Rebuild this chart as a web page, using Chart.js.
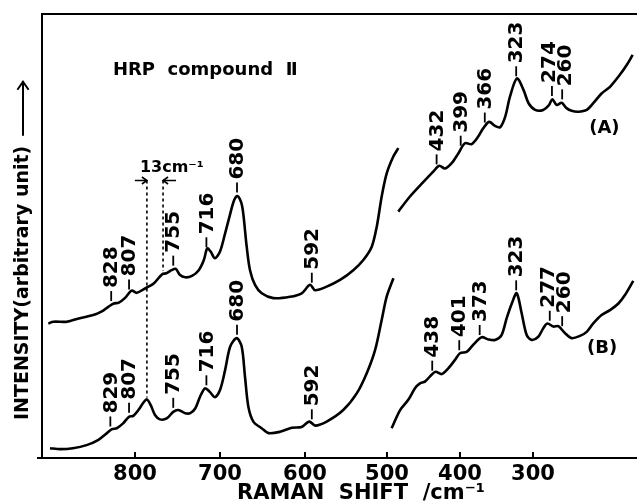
<!DOCTYPE html>
<html>
<head>
<meta charset="utf-8">
<script src="https://cdn.jsdelivr.net/npm/chart.js@4.4.1/dist/chart.umd.min.js"></script>
<style>
    html, body { margin: 0; padding: 0; background: #fff; }
    #ramanChart { display: block; }
</style>
</head>
<body>
<canvas id="ramanChart" width="637" height="504"></canvas>
<script>
    // (A) upper trace, high-frequency part (Raman shift cm-1 / intensity, arbitrary)
    var shiftAHigh = [902, 896, 880, 865, 849, 839, 831, 825, 819, 812, 804, 798, 790, 778, 768, 763, 757, 752, 747, 741,
        733, 725, 719, 715, 711, 706, 700, 694, 688, 683.5, 679.5, 675, 672.6, 668.6, 664.7, 658.8, 650.9, 637.3, 617.6, 603.9,
        594.1, 588.2, 574.5, 558.8, 543.2, 531.4, 521.5, 515.6, 509.8, 503.9, 496.1, 490.2];
    var intensityAHigh = [30.3, 30.7, 30.7, 31.5, 32.2, 33.0, 34.1, 34.8, 35.0, 36.0, 37.7, 37.2, 38.0, 39.3, 41.4, 41.6, 42.3, 42.6, 41.2, 40.7,
        41.0, 42.3, 44.6, 47.2, 46.5, 45.0, 46.5, 50.6, 55.0, 58.0, 59.0, 57.5, 55.0, 47.6, 42.3, 39.0, 37.1, 36.0, 36.3, 37.1,
        39.0, 37.8, 38.6, 40.1, 42.3, 44.6, 47.6, 52.1, 58.9, 64.1, 67.9, 69.8];
    // (A) low-frequency part
    var shiftALow = [484.5, 468.5, 450, 436.6, 428.4, 420.5, 411.4, 402.3, 393.2, 384, 375, 368, 360, 352, 345, 338, 331.5, 322, 313, 306,
        297, 286, 278, 273.5, 267.5, 260.7, 254, 247, 238, 226.4, 217.4, 206, 194.5, 181, 171.6, 163.4];
    var intensityALow = [55.5, 58.9, 62.2, 64.5, 65.8, 65.2, 66.4, 68.6, 70.9, 70.7, 72.4, 74.3, 75.7, 74.8, 74.5, 76.9, 81.4, 85.5, 82.9, 79.9,
        78.4, 78.4, 79.5, 80.8, 79.5, 80.0, 78.8, 78.2, 78.0, 78.4, 79.9, 82.1, 83.6, 86.3, 88.5, 90.8];
    // (B) lower trace, high-frequency part
    var shiftBHigh = [900, 888, 873, 857, 843, 833, 827, 821.5, 814, 807, 802, 796, 790, 786, 781.5, 776.5, 770.6, 762.7, 755, 749,
        741, 735, 729, 723.5, 717.6, 712, 706, 700, 694, 688, 680.4, 674.5, 670.6, 666.7, 660.8, 651, 643, 629.4, 615.6, 604,
        595, 588, 574.5, 555, 539, 527.4, 517.6, 509.8, 504, 496];
    var intensityBHigh = [2.2, 2.0, 2.2, 2.9, 4.1, 5.6, 6.5, 6.7, 7.8, 9.3, 9.5, 10.8, 12.5, 13.2, 11.9, 9.7, 8.7, 8.9, 10.4, 10.8,
        10.1, 10.1, 11.2, 13.8, 15.7, 14.9, 13.7, 15.3, 19.8, 25.1, 27.0, 25.1, 18.3, 11.6, 8.2, 6.7, 5.6, 5.9, 6.8, 7.0,
        8.2, 7.3, 8.2, 10.8, 14.6, 19.1, 24.3, 31.1, 36.3, 40.5];
    // (B) low-frequency part
    var shiftBLow = [493.6, 482, 470.8, 461.6, 454.8, 448, 434, 425, 416, 406.8, 400, 390.8, 381.8, 370.3, 361, 352, 343, 336, 329, 322.3,
        315.5, 308.6, 301.8, 292.7, 286, 280.4, 272, 265.3, 256, 247, 235.6, 226.4, 217.4, 206, 194.5, 183, 174, 162.6];
    var intensityBLow = [6.7, 10.8, 13.1, 15.7, 16.8, 17.2, 19.4, 18.9, 20.2, 22.1, 23.6, 23.9, 25.5, 27.2, 26.7, 26.6, 27.7, 31.5, 34.8, 37.1,
        32.6, 27.7, 26.6, 27.3, 29.2, 30.3, 29.6, 29.7, 28.1, 27.0, 27.5, 28.4, 30.3, 32.2, 33.3, 34.8, 36.7, 39.9];

    var ticksHigh = [800, 700, 600];
    var ticksLow = [500, 400, 300];

    var peaksAHigh = [828, 807, 755, 716, 680, 592];
    var peaksALow = [432, 399, 366, 323, 274, 260];
    var peaksBHigh = [829, 807, 755, 716, 680, 592];
    var peaksBLow = [438, 401, 373, 323, 277, 260];

    // 13 cm-1 shift markers: peak in (B), shoulder in (A)
    var markB = 786;
    var markA = 767;

    var FONT = '"DejaVu Sans", sans-serif';
    Chart.defaults.font.family = FONT;
    Chart.defaults.color = '#000';

    function toPoints(xs, ys) {
        return xs.map(function (x, i) { return {x: x, y: ys[i]}; });
    }

    function valueAt(xs, ys, v) {
        for (var i = 0; i < xs.length - 1; i++) {
            if ((v - xs[i]) * (v - xs[i + 1]) <= 0) {
                var t = (v - xs[i]) / (xs[i + 1] - xs[i]);
                return ys[i] + t * (ys[i + 1] - ys[i]);
            }
        }
        return ys[0];
    }

    function drawPeakLabels(ctx, xScale, yScale, xs, ys, peaks) {
        var items = peaks.map(function (p) {
            var px = xScale.getPixelForValue(p);
            return {p: p, px: px, tx: px, py: yScale.getPixelForValue(valueAt(xs, ys, p))};
        });
        items.sort(function (a, b) { return a.px - b.px; });
        // spread labels that sit too close together
        for (var i = 1; i < items.length; i++) {
            var gap = items[i].tx - items[i - 1].tx;
            if (gap < 16) {
                items[i - 1].tx -= (16 - gap) / 2;
                items[i].tx += (16 - gap) / 2;
            }
        }
        items.forEach(function (it) {
            ctx.beginPath();
            ctx.moveTo(it.px, it.py - 4);
            ctx.lineTo(it.px, it.py - 14);
            ctx.stroke();
            ctx.save();
            ctx.translate(it.tx + 1, it.py - 17);
            ctx.rotate(-Math.PI / 2);
            ctx.textAlign = 'left';
            ctx.textBaseline = 'middle';
            ctx.fillText(String(it.p), 0, 0);
            ctx.restore();
        });
    }

    function arrowHead(ctx, x, y, dir, size) {
        ctx.beginPath();
        ctx.moveTo(x - dir * size, y - size * 0.7);
        ctx.lineTo(x, y);
        ctx.lineTo(x - dir * size, y + size * 0.7);
        ctx.stroke();
    }

    var decor = {
        id: 'decor',
        afterDatasetsDraw: function (chart) {
            var ctx = chart.ctx;
            var area = chart.chartArea;
            var xh = chart.scales.x, xl = chart.scales.x2, y = chart.scales.y;
            ctx.save();
            ctx.strokeStyle = '#000';
            ctx.fillStyle = '#000';
            ctx.lineCap = 'butt';

            // top frame line and small overhang of the shift axis
            ctx.lineWidth = 2;
            ctx.beginPath();
            ctx.moveTo(area.left - 1, area.top);
            ctx.lineTo(area.right, area.top);
            ctx.moveTo(area.left - 5, area.bottom);
            ctx.lineTo(area.left, area.bottom);
            ctx.stroke();

            // inner tick marks
            [xh, xl].forEach(function (s) {
                s.ticks.forEach(function (t) {
                    var px = s.getPixelForValue(t.value);
                    ctx.beginPath();
                    ctx.moveTo(px, area.bottom);
                    ctx.lineTo(px, area.bottom - 6);
                    ctx.stroke();
                });
            });

            // peak labels
            ctx.lineWidth = 1.8;
            ctx.font = 'bold 20px ' + FONT;
            drawPeakLabels(ctx, xh, y, shiftAHigh, intensityAHigh, peaksAHigh);
            drawPeakLabels(ctx, xl, y, shiftALow, intensityALow, peaksALow);
            drawPeakLabels(ctx, xh, y, shiftBHigh, intensityBHigh, peaksBHigh);
            drawPeakLabels(ctx, xl, y, shiftBLow, intensityBLow, peaksBLow);

            // 13 cm-1 dotted markers
            var topY = y.getPixelForValue(62.5);
            var xb = xh.getPixelForValue(markB);
            var yb = y.getPixelForValue(valueAt(shiftBHigh, intensityBHigh, markB));
            var xa = xh.getPixelForValue(markA);
            var ya = y.getPixelForValue(valueAt(shiftAHigh, intensityAHigh, markA));
            ctx.lineWidth = 1.6;
            ctx.setLineDash([3, 3]);
            ctx.beginPath();
            ctx.moveTo(xb, topY);
            ctx.lineTo(xb, yb - 2);
            ctx.moveTo(xa, topY);
            ctx.lineTo(xa, ya - 3);
            ctx.stroke();
            ctx.setLineDash([]);
            ctx.beginPath();
            ctx.moveTo(xb - 12, topY);
            ctx.lineTo(xb, topY);
            ctx.moveTo(xa + 13, topY);
            ctx.lineTo(xa, topY);
            ctx.stroke();
            arrowHead(ctx, xb, topY, 1, 5);
            arrowHead(ctx, xa, topY, -1, 5);
            ctx.font = 'bold 16px ' + FONT;
            ctx.textAlign = 'left';
            ctx.textBaseline = 'alphabetic';
            ctx.fillText('13cm\u207B\u00B9', xb - 7, topY - 9);

            // sample name and trace labels
            ctx.font = 'bold 18px ' + FONT;
            ctx.fillText('HRP  compound  \u2161', xh.getPixelForValue(826), y.getPixelForValue(86.3));
            ctx.fillText('(A)', xl.getPixelForValue(223), y.getPixelForValue(73.2));
            ctx.fillText('(B)', xl.getPixelForValue(226), y.getPixelForValue(23.6));

            // axis titles
            ctx.font = 'bold 21px ' + FONT;
            ctx.textAlign = 'center';
            ctx.fillText('RAMAN  SHIFT  /cm\u207B\u00B9', 361, 499);

            ctx.save();
            ctx.translate(area.left - 19, area.bottom - 38);
            ctx.rotate(-Math.PI / 2);
            ctx.font = 'bold 19px ' + FONT;
            ctx.textAlign = 'left';
            ctx.textBaseline = 'middle';
            ctx.fillText('INTENSITY(arbitrary unit)', 0, 0);
            var w = ctx.measureText('INTENSITY(arbitrary unit)').width;
            ctx.lineWidth = 2;
            ctx.beginPath();
            ctx.moveTo(w + 10, 0);
            ctx.lineTo(w + 64, 0);
            ctx.stroke();
            arrowHead(ctx, w + 64, 0, 1, 8);
            ctx.restore();

            ctx.restore();
        }
    };

    function line(xs, ys, axis) {
        return {
            data: toPoints(xs, ys),
            xAxisID: axis,
            yAxisID: 'y',
            borderColor: '#000',
            borderWidth: 2.6,
            pointRadius: 0,
            tension: 0.3,
            fill: false,
            clip: false
        };
    }

    new Chart(document.getElementById('ramanChart').getContext('2d'), {
        type: 'line',
        data: {
            datasets: [
                line(shiftAHigh, intensityAHigh, 'x'),
                line(shiftALow, intensityALow, 'x2'),
                line(shiftBHigh, intensityBHigh, 'x'),
                line(shiftBLow, intensityBLow, 'x2')
            ]
        },
        options: {
            responsive: false,
            animation: false,
            layout: {padding: {top: 14, left: 0, right: 0, bottom: 0}},
            plugins: {legend: {display: false}, tooltip: {enabled: false}},
            scales: {
                x: {
                    type: 'linear',
                    position: 'bottom',
                    stack: 'shift',
                    stackWeight: 330,
                    reverse: true,
                    min: 521.2,
                    max: 909.4,
                    grid: {display: false, drawTicks: false},
                    border: {display: true, width: 2, color: '#000'},
                    ticks: {font: {size: 21, weight: 'bold'}, padding: 4, maxRotation: 0, autoSkip: false},
                    afterBuildTicks: function (s) { s.ticks = ticksHigh.map(function (v) { return {value: v}; }); },
                    afterFit: function (s) { s.height = 46; }
                },
                x2: {
                    type: 'linear',
                    position: 'bottom',
                    stack: 'shift',
                    stackWeight: 265,
                    reverse: true,
                    min: 157.5,
                    max: 520.5,
                    grid: {display: false, drawTicks: false},
                    border: {display: true, width: 2, color: '#000'},
                    ticks: {font: {size: 21, weight: 'bold'}, padding: 4, maxRotation: 0, autoSkip: false},
                    afterBuildTicks: function (s) { s.ticks = ticksLow.map(function (v) { return {value: v}; }); },
                    afterFit: function (s) { s.height = 46; }
                },
                y: {
                    type: 'linear',
                    position: 'left',
                    min: 0,
                    max: 100,
                    grid: {display: false, drawTicks: false},
                    border: {display: true, width: 2, color: '#000'},
                    ticks: {display: false},
                    afterFit: function (s) { s.width = 42; }
                }
            }
        },
        plugins: [decor]
    });
</script>
</body>
</html>
